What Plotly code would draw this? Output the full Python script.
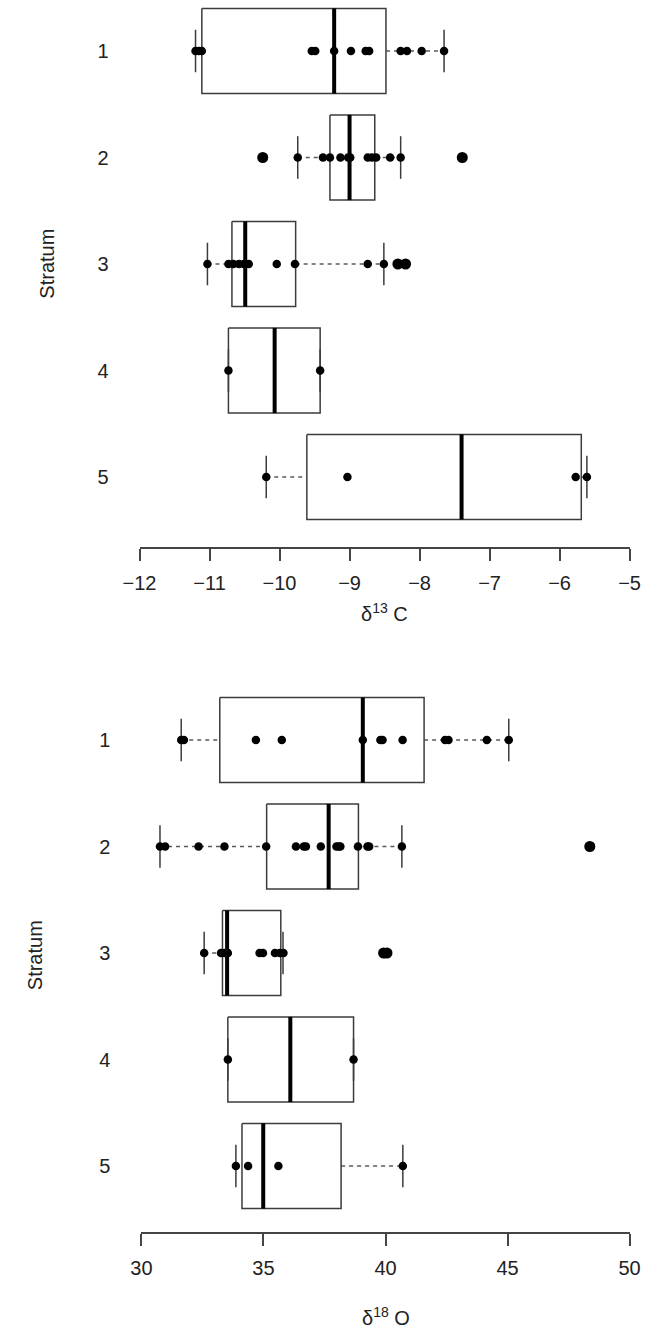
import plotly.graph_objects as go

# ---------------- data: delta 13C (top panel) ----------------
strata = [1, 2, 3, 4, 5]
strata_labels = ["1", "2", "3", "4", "5"]

c13_q1 = [-11.11, -9.28, -10.68, -10.73, -9.61]
c13_med = [-9.22, -9.00, -10.49, -10.07, -7.40]
c13_q3 = [-8.48, -8.64, -9.77, -9.42, -5.69]
c13_lo = [-11.20, -9.74, -11.03, -10.73, -10.19]
c13_hi = [-7.65, -8.27, -8.51, -9.42, -5.61]

c13_s1 = [-11.20, -11.15, -11.11, -9.54, -9.49, -9.22, -8.98, -8.77, -8.72, -8.27, -8.18, -7.97, -7.65]
c13_s2 = [-9.74, -9.38, -9.28, -9.13, -9.02, -8.99, -8.74, -8.68, -8.62, -8.42, -8.27]
c13_s3 = [-11.03, -10.73, -10.66, -10.58, -10.51, -10.44, -10.04, -9.78, -8.74, -8.51]
c13_s4 = [-10.73, -9.42]
c13_s5 = [-10.19, -9.03, -5.77, -5.61]
c13_out = [[], [-10.24, -7.39], [-8.31, -8.20], [], []]
c13_ticks = [-12, -11, -10, -9, -8, -7, -6, -5]

# ---------------- data: delta 18O (bottom panel) ----------------
o18_q1 = [33.21, 35.13, 33.32, 33.54, 34.12]
o18_med = [39.07, 37.67, 33.51, 36.10, 34.99]
o18_q3 = [41.58, 38.89, 35.71, 38.69, 38.18]
o18_lo = [31.63, 30.76, 32.57, 33.54, 33.87]
o18_hi = [45.05, 40.67, 35.80, 38.69, 40.71]

o18_s1 = [31.63, 31.74, 34.69, 35.75, 39.07, 39.79, 39.88, 40.70, 42.44, 42.58, 44.15, 45.05]
o18_s2 = [30.76, 30.97, 32.34, 33.40, 35.11, 36.33, 36.65, 36.74, 37.35, 37.99, 38.08, 38.15,
          38.87, 39.26, 39.33, 40.67]
o18_s3 = [32.57, 33.26, 33.40, 33.54, 34.84, 34.98, 35.47, 35.67, 35.82]
o18_s4 = [33.54, 38.69]
o18_s5 = [33.87, 34.37, 35.61, 40.71]
o18_out = [[], [48.37], [39.92, 40.06], [], []]
o18_ticks = [30, 35, 40, 45, 50]

# ---------------- styling ----------------
W, H = 654, 1337
FONT = "Liberation Sans, Arial, Helvetica, sans-serif"
FS = 20
TXT = "#222222"
BOXCOL = "#3c3c3c"
HALF = 0.4      # half box width (boxwex 0.8)
STAPLE = 0.2    # half staple length


def px_x(p):
    return p / W


def px_y(p):
    return 1 - p / H


fig = go.Figure()


def add_panel(xa, ya, q1, med, q3, lo, hi, pts, outs):
    bx, by, mx, my, wx, wy, sx, sy = [], [], [], [], [], [], [], []
    px, py, ox, oy = [], [], [], []
    for i, g in enumerate(strata):
        bx += [q1[i], q3[i], q3[i], q1[i], q1[i], None]
        by += [g - HALF, g - HALF, g + HALF, g + HALF, g - HALF, None]
        mx += [med[i], med[i], None]
        my += [g - HALF, g + HALF, None]
        if lo[i] < q1[i]:
            wx += [lo[i], q1[i], None]
            wy += [g, g, None]
        if hi[i] > q3[i]:
            wx += [q3[i], hi[i], None]
            wy += [g, g, None]
        sx += [lo[i], lo[i], None, hi[i], hi[i], None]
        sy += [g - STAPLE, g + STAPLE, None, g - STAPLE, g + STAPLE, None]
        px += pts[i]
        py += [g] * len(pts[i])
        ox += outs[i]
        oy += [g] * len(outs[i])
    common = dict(xaxis=xa, yaxis=ya, showlegend=False, hoverinfo="skip")
    fig.add_trace(go.Scatter(x=wx, y=wy, mode="lines",
                             line=dict(color="#5a5a5a", width=1.3, dash="4px,4px"), **common))
    fig.add_trace(go.Scatter(x=sx, y=sy, mode="lines",
                             line=dict(color=BOXCOL, width=1.5), **common))
    fig.add_trace(go.Scatter(x=bx, y=by, mode="lines",
                             line=dict(color=BOXCOL, width=1.5), **common))
    fig.add_trace(go.Scatter(x=mx, y=my, mode="lines",
                             line=dict(color="black", width=4), **common))
    fig.add_trace(go.Scatter(x=px, y=py, mode="markers",
                             marker=dict(color="black", size=8.5, line=dict(width=0)), **common))
    fig.add_trace(go.Scatter(x=ox, y=oy, mode="markers",
                             marker=dict(color="black", size=11, line=dict(width=0)), **common))


add_panel("x", "y", c13_q1, c13_med, c13_q3, c13_lo, c13_hi,
          [c13_s1, c13_s2, c13_s3, c13_s4, c13_s5], c13_out)
add_panel("x2", "y2", o18_q1, o18_med, o18_q3, o18_lo, o18_hi,
          [o18_s1, o18_s2, o18_s3, o18_s4, o18_s5], o18_out)

SP = 106.5  # px per stratum
top_g1 = 51
bot_g1 = 740
top_bottom_val = 5.66
bot_bottom_val = 5.62
top_axis_px = top_g1 + (top_bottom_val - 1) * SP
bot_axis_px = bot_g1 + (bot_bottom_val - 1) * SP
bot_top_px = bot_g1 - 0.7 * SP

xaxis_common = dict(showgrid=False, zeroline=False, showline=True, linecolor="#444",
                    linewidth=1.5, ticks="outside", ticklen=12, tickwidth=1.5,
                    tickcolor="#444", tickfont=dict(family=FONT, size=FS, color=TXT),
                    ticklabelstandoff=5)
yaxis_common = dict(showgrid=False, zeroline=False, showline=False, ticks="",
                    tickvals=strata, ticktext=strata_labels,
                    tickfont=dict(family=FONT, size=FS, color=TXT),
                    ticklabelstandoff=30)

title_font = dict(family=FONT, size=FS, color=TXT)
fig.update_layout(
    width=W, height=H,
    margin=dict(l=0, r=0, t=0, b=0),
    paper_bgcolor="white", plot_bgcolor="white",
    xaxis=dict(domain=[px_x(128), px_x(640)], range=[-12, -5], tickvals=c13_ticks,
               anchor="y", **xaxis_common),
    yaxis=dict(domain=[px_y(top_axis_px), 1.0],
               range=[top_bottom_val, 1 - top_g1 / SP], anchor="x", **yaxis_common),
    xaxis2=dict(domain=[px_x(130), px_x(640)], range=[30, 50], tickvals=o18_ticks,
                anchor="y2", **xaxis_common),
    yaxis2=dict(domain=[px_y(bot_axis_px), px_y(bot_top_px)],
                range=[bot_bottom_val, 0.3], anchor="x2", **yaxis_common),
    annotations=[
        dict(text="Stratum", x=px_x(31), y=px_y(264), xref="paper", yref="paper",
             xanchor="center", yanchor="middle", textangle=-90, showarrow=False,
             font=title_font),
        dict(text="Stratum", x=px_x(19), y=px_y(955), xref="paper", yref="paper",
             xanchor="center", yanchor="middle", textangle=-90, showarrow=False,
             font=title_font),
        dict(text="δ<sup>13</sup> C", x=px_x(384), y=px_y(612), xref="paper", yref="paper",
             xanchor="center", yanchor="middle", showarrow=False, font=title_font),
        dict(text="δ<sup>18</sup> O", x=px_x(385), y=px_y(1316), xref="paper", yref="paper",
             xanchor="center", yanchor="middle", showarrow=False, font=title_font),
    ],
)

fig.write_html("out.html")
